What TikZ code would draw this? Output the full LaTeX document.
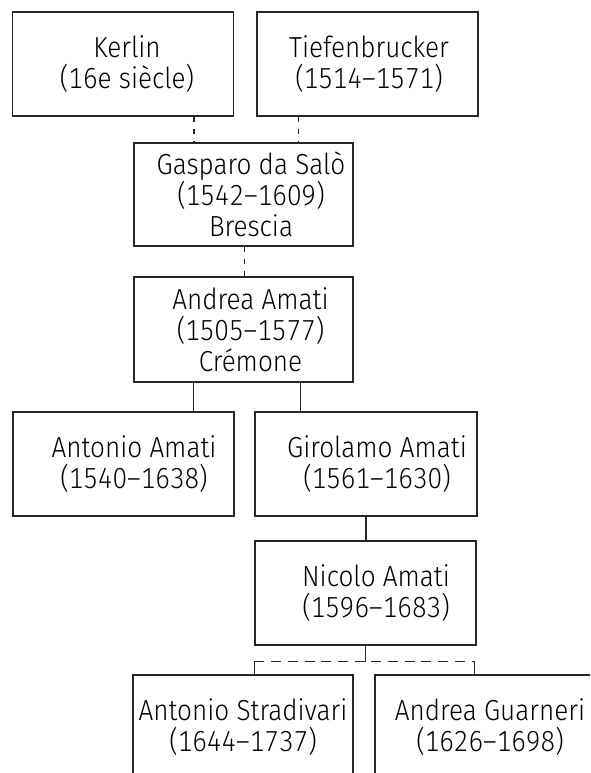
\documentclass[tikz,border=0pt]{standalone}
\usepackage{fontspec}
\setmainfont{Fira Sans}[UprightFont=* Light, FakeStretch=0.9, Numbers={Lining,Monospaced}]
\usetikzlibrary{calc}
\newcommand{\lp}[1]{\hspace*{#1pt}}
\begin{document}
\begin{tikzpicture}[x=1pt,y=-1pt,
  box/.style={draw=black!85, line width=1.2pt, minimum width=221pt, minimum height=104pt,
    inner sep=0pt, align=center, font=\fontsize{29pt}{31pt}\selectfont},
  conn/.style={draw=black!85, line width=1.2pt},
  dotline/.style={conn, line width=1.4pt, dash pattern=on 5pt off 7pt},
  dashline/.style={conn, line width=1.4pt, dash pattern=on 10pt off 6.7pt}]
\clip (0,0) rectangle (590,773);
\fill[white] (0,0) rectangle (590,773);
\node[box] (kerlin) at (123,64) {\lp{8}Kerlin\\\lp{8}(16e siècle)};
\node[box] (tief) at (367.5,64) {\lp{3}Tiefenbrucker\\\lp{3}(1514–1571)};
\node[box, minimum width=219pt, minimum height=103pt] (gasparo) at (243.5,194.5) {\lp{15}Gasparo da Salò\\\lp{15}(1542–1609)\\\lp{15}Brescia};
\node[box, minimum width=219pt, minimum height=105pt] (andrea) at (243.5,329.5) {\lp{14}Andrea Amati\\\lp{14}(1505–1577)\\\lp{14}Crémone};
\node[box] (antonio) at (123.5,464) {\lp{21}Antonio Amati\\\lp{21}(1540–1638)};
\node[box, minimum width=222pt] (girolamo) at (366,464) {\lp{22}Girolamo Amati\\\lp{22}(1561–1630)};
\node[box] (nicolo) at (365.5,593) {\lp{21}Nicolo Amati\\\lp{21}(1596–1683)};
\node[box, minimum width=220pt] (stradivari) at (243,727) {Antonio Stradivari\\(1644–1737)};
\node[box] (guarneri) at (485.5,727) {\lp{9}Andrea Guarneri\\\lp{9}(1626–1698)};
% connectors
\draw[dotline] ([xshift=-40pt]kerlin.south east) -- ([xshift=-40pt]kerlin.south east |- gasparo.north);
\draw[dotline] ([xshift=42pt]tief.south west) -- ([xshift=42pt]tief.south west |- gasparo.north);
\draw[dotline] ([xshift=1pt]gasparo.south) -- ([xshift=1pt]gasparo.south |- andrea.north);
\draw[conn] ([xshift=60pt]andrea.south west) -- ([xshift=60pt]andrea.south west |- antonio.north);
\draw[conn] ([xshift=-53pt]andrea.south east) -- ([xshift=-53pt]andrea.south east |- girolamo.north);
\draw[conn] (girolamo.south) -- (girolamo.south |- nicolo.north);
\coordinate (split) at ($(nicolo.south)+(0,16)$);
\coordinate (dl) at (split -| nicolo.west);
\coordinate (dr) at ([xshift=-2pt]split -| nicolo.east);
\draw[conn] (nicolo.south) -- (split);
\draw[dashline] (dl) -- (dr);
\draw[conn] (dl) -- (dl |- stradivari.north);
\draw[conn] (dr) -- (dr |- guarneri.north);
\end{tikzpicture}
\end{document}
